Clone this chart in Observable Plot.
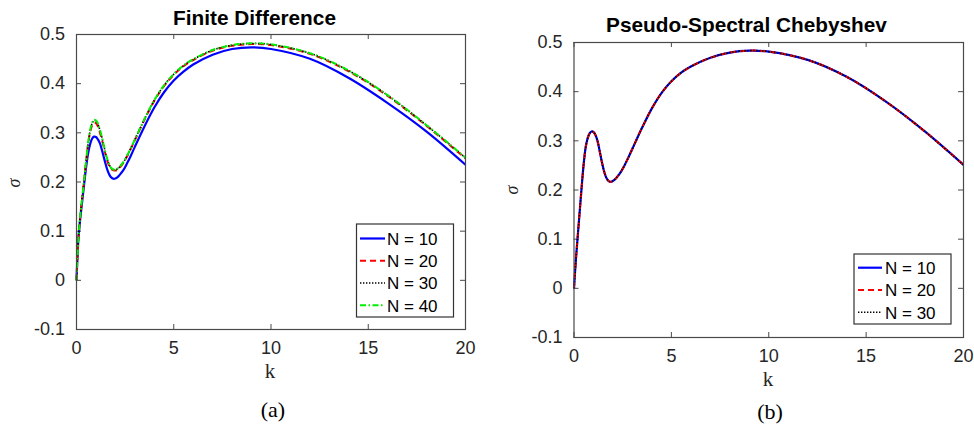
<!DOCTYPE html>
<html><head><meta charset="utf-8">
<script src="https://cdn.jsdelivr.net/npm/d3@7"></script>
<script src="https://cdn.jsdelivr.net/npm/@observablehq/plot@0.6"></script>
<style>
body{margin:0;background:#fff;}
#root{position:relative;width:974px;height:425px;overflow:hidden;background:#fff;}
#root > svg, #root > figure{position:absolute;margin:0;}
</style></head><body><div id="root"></div>
<script>
// ---------- data ----------
const k = [0,0.1,0.2,0.3,0.4,0.5,0.6,0.7,0.8,0.9,1.0,1.1,1.2,1.3,1.4,1.5,1.6,1.7,1.8,1.9,2.0,2.1,2.2,2.4,2.6,2.8,3.0,3.5,4,4.5,5,5.5,6,7,8,9,10,12,14,16,18,20];

// Finite difference
const fdN10 = [0,0.085,0.128,0.163,0.198,0.232,0.259,0.277,0.288,0.2922, 0.2915,0.2865,0.279,0.266,0.251,0.236,0.223,0.214,0.2088,0.2066, 0.2072,0.2095,0.2135, 0.2235,0.238,0.254,0.2715, 0.3135,0.3515,0.3825, 0.4065,0.4245,0.439,0.459,0.4705,0.4738,0.4705, 0.4505,0.4115,0.3605,0.3025,0.2351];
const fdN20 = [0,0.085,0.134,0.170,0.206,0.243,0.277,0.301,0.315,0.3205, 0.3198,0.313,0.301,0.287,0.271,0.255,0.241,0.231,0.2258,0.2236, 0.2233,0.2250,0.2285, 0.2385,0.2520,0.2680,0.2850, 0.3270,0.3650,0.3950, 0.4180,0.4355,0.4480,0.4670,0.4770,0.4805,0.4785, 0.4605,0.4250,0.3750,0.3140,0.2480];
const fdN30 = [0,0.085,0.135,0.171,0.207,0.245,0.279,0.304,0.319,0.325, 0.3245,0.318,0.306,0.2915,0.2748,0.258,0.2438,0.2338,0.2278,0.2253, 0.2248,0.2265,0.2299, 0.2397,0.2532,0.2692,0.2862, 0.3282,0.3662,0.3962, 0.4192,0.4367,0.4492,0.4682,0.4782,0.4817,0.4797, 0.4617,0.4262,0.3762,0.3152,0.2492];
const fdN40 = [0,0.085,0.135,0.171,0.207,0.245,0.280,0.305,0.320,0.3265, 0.3255,0.319,0.307,0.292,0.275,0.258,0.244,0.234,0.228,0.2255, 0.225,0.2268,0.2302, 0.2400,0.2535,0.2695,0.2865, 0.3285,0.3665,0.3965, 0.4195,0.4370,0.4495,0.4685,0.4785,0.4820,0.4800, 0.4620,0.4265,0.3765,0.3155,0.2495];

// Pseudo-spectral Chebyshev
const psN10 = [0,0.060,0.110,0.160,0.209,0.254,0.287,0.305,0.315,0.319, 0.318,0.312,0.301,0.283,0.263,0.245,0.231,0.222,0.2175,0.2168, 0.2185,0.2215,0.2258, 0.2365,0.2505,0.2668,0.2840, 0.3270,0.3660,0.3975, 0.4210,0.4385,0.4510,0.4690,0.4795,0.4835,0.4815, 0.4646,0.4302,0.3802,0.3196,0.2511];
const psN20 = [0,0.060,0.110,0.160,0.209,0.254,0.287,0.305,0.315,0.319, 0.318,0.312,0.301,0.283,0.263,0.245,0.231,0.222,0.2175,0.2168, 0.2185,0.2215,0.2258, 0.2365,0.2505,0.2668,0.2840, 0.3270,0.3660,0.3975, 0.4210,0.4385,0.4510,0.4690,0.4795,0.4835,0.4815, 0.4646,0.4302,0.3802,0.3196,0.2511];
const psN30 = [0,0.060,0.110,0.160,0.209,0.254,0.287,0.305,0.315,0.319, 0.318,0.312,0.301,0.283,0.263,0.245,0.231,0.222,0.2175,0.2168, 0.2185,0.2215,0.2258, 0.2365,0.2505,0.2668,0.2840, 0.3270,0.3660,0.3975, 0.4210,0.4385,0.4510,0.4690,0.4795,0.4835,0.4815, 0.4646,0.4302,0.3802,0.3196,0.2511];

const xTicks = [0,5,10,15,20];
const xTickLabels = ["0","5","10","15","20"];
const yTicks = [-0.1,0,0.1,0.2,0.3,0.4,0.5];
const yTickLabels = ["-0.1","0","0.1","0.2","0.3","0.4","0.5"];

const titles = ["Finite Difference","Pseudo-Spectral Chebyshev"];
const subLabels = ["(a)","(b)"];
const fdLegend = ["N = 10","N = 20","N = 30","N = 40"];
const psLegend = ["N = 10","N = 20","N = 30"];

// ---------- styles ----------
const styles = [
  {stroke:"#0000ff", strokeWidth:2.2, dash:null},
  {stroke:"#ff0000", strokeWidth:2, dash:"6,4"},
  {stroke:"#000000", strokeWidth:1.6, dash:"1.4,1.6"},
  {stroke:"#00f000", strokeWidth:2, dash:"6,2.5,1.5,2.5"}
];

const sans = "'Liberation Sans', Arial, Helvetica, sans-serif";
const serif = "'Liberation Serif', 'Times New Roman', serif";
const axisColor = "#4a4a4a";

const xLabelMap = new Map(xTicks.map((t,i)=>[t,xTickLabels[i]]));
const yLabelMap = new Map(yTicks.map((t,i)=>[t,yTickLabels[i]]));

function panel(seriesList, geom){
  const {width,height,ml,mr,mt,mb} = geom;
  const fw = width-ml-mr, fh = height-mt-mb;
  const lineMarks = seriesList.map((vals,i)=>{
    const data = k.map((kk,j)=>({k:kk, s:vals[j]}));
    const st = styles[i];
    const o = {x:"k", y:"s", stroke:st.stroke, strokeWidth:st.strokeWidth, curve:"catmull-rom", strokeLinecap:"butt"};
    if (st.dash) o.strokeDasharray = st.dash;
    return Plot.line(data, o);
  });
  return Plot.plot({
    width, height, marginLeft:ml, marginRight:mr, marginTop:mt, marginBottom:mb,
    style:{fontFamily:sans, fontSize:"18px", color:"#262626", background:"transparent", overflow:"visible"},
    x:{domain:[0,20]},
    y:{domain:[-0.1,0.5]},
    marks:[
      Plot.ruleX(xTicks,{x:d=>d, insetTop:fh-5, stroke:axisColor}),
      Plot.ruleX(xTicks,{x:d=>d, insetBottom:fh-5, stroke:axisColor}),
      Plot.ruleY(yTicks,{y:d=>d, insetRight:fw-5, stroke:axisColor}),
      Plot.ruleY(yTicks,{y:d=>d, insetLeft:fw-5, stroke:axisColor}),
      ...lineMarks,
      Plot.frame({stroke:axisColor, strokeWidth:1.2}),
      Plot.axisX(xTicks,{anchor:"bottom", tickSize:0, tickPadding:12, tickFormat:d=>xLabelMap.get(d), label:null, fontSize:18}),
      Plot.axisY(yTicks,{anchor:"left", tickSize:0, tickPadding:11.5, tickFormat:d=>yLabelMap.get(d), label:null, fontSize:18})
    ]
  });
}

const root = document.getElementById("root");
const left = panel([fdN10,fdN20,fdN30,fdN40], {width:480,height:380,ml:76,mr:15,mt:34,mb:51});
left.style.left = "0px"; left.style.top = "0px";
root.appendChild(left);
const right = panel([psN10,psN20,psN30], {width:484,height:380,ml:83.5,mr:11,mt:42,mb:43});
right.style.left = "490px"; right.style.top = "0px";
root.appendChild(right);

// ---------- overlay text & legends ----------
const ns = "http://www.w3.org/2000/svg";
const ov = document.createElementNS(ns,"svg");
ov.setAttribute("width",974); ov.setAttribute("height",425);
ov.style.position="absolute"; ov.style.left="0"; ov.style.top="0";
root.appendChild(ov);
function el(tag, attrs, text){
  const e = document.createElementNS(ns,tag);
  for (const a in attrs) e.setAttribute(a, attrs[a]);
  if (text!=null) e.textContent = text;
  ov.appendChild(e); return e;
}
// titles
el("text",{x:254.5,y:25,"text-anchor":"middle","font-family":sans,"font-weight":"bold","font-size":20.8,fill:"#000"},titles[0]);
el("text",{x:746.5,y:31.5,"text-anchor":"middle","font-family":sans,"font-weight":"bold","font-size":20.8,fill:"#000"},titles[1]);
// x labels
el("text",{x:270,y:378,"text-anchor":"middle","font-family":serif,"font-size":21,fill:"#262626"},"k");
el("text",{x:768,y:386,"text-anchor":"middle","font-family":serif,"font-size":21,fill:"#262626"},"k");
// y labels
el("text",{transform:"translate(20,183) rotate(-90)","text-anchor":"middle","font-family":serif,"font-style":"italic","font-size":18,fill:"#262626"},"σ");
el("text",{transform:"translate(518,190) rotate(-90)","text-anchor":"middle","font-family":serif,"font-style":"italic","font-size":18,fill:"#262626"},"σ");
// sub labels
el("text",{x:273,y:417,"text-anchor":"middle","font-family":serif,"font-size":22,fill:"#000"},subLabels[0]);
el("text",{x:770,y:419,"text-anchor":"middle","font-family":serif,"font-size":22,fill:"#000"},subLabels[1]);

function legend(labels, box, x0, x1, tx, ys){
  el("rect",{x:box[0],y:box[1],width:box[2],height:box[3],fill:"#fff",stroke:"#333","stroke-width":1.2});
  labels.forEach((lab,i)=>{
    const st = styles[i];
    const a = {x1:x0,x2:x1,y1:ys[i],y2:ys[i],stroke:st.stroke,"stroke-width":st.strokeWidth};
    if (st.dash) a["stroke-dasharray"] = st.dash;
    el("line",a);
    el("text",{x:tx,y:ys[i]+6.2,"font-family":sans,"font-size":17,fill:"#000"},lab);
  });
}
legend(fdLegend,[356.5,224,97,93],360,385,387,[238.5,260.8,283,305.3]);
legend(psLegend,[854,254,97,70],858,882,885,[267.7,290,312.3]);
</script>
</body></html>
